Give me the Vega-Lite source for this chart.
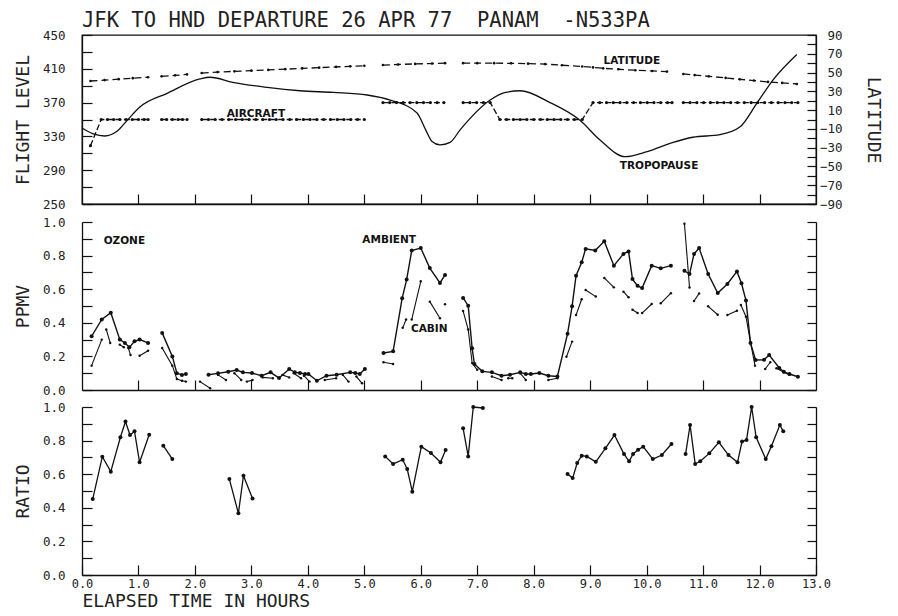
{
  "$schema": "https://vega.github.io/schema/vega-lite/v6.json",
  "padding": {"left": 13, "top": 10, "right": 8, "bottom": 0},
  "background": "white",
  "title": {"text": "JFK TO HND DEPARTURE 26 APR 77\u00a0\u00a0PANAM\u00a0\u00a0-N533PA", "anchor": "start", "frame": "group", "font": "DejaVu Sans Mono", "fontSize": 20.5, "fontWeight": "normal", "color": "#222", "offset": -3},
  "spacing": 4,
  "config": {
    "view": {"stroke": null},
    "axis": {"grid": false, "labelFont": "DejaVu Sans Mono", "labelFontSize": 12.5, "labelColor": "#222", "titleFont": "DejaVu Sans Mono", "titleFontSize": 18, "titleFontWeight": "normal", "titleColor": "#222", "domainColor": "#111", "tickColor": "#111", "domainWidth": 1.3, "tickWidth": 1.2, "labelOverlap": false, "labelFlush": false}
  },
  "datasets": {
    "trop": [
      {"t":0.0,"fl":340},{"t":0.2,"fl":333},{"t":0.4,"fl":330.5},{"t":0.62,"fl":336},{"t":0.8,"fl":349},{"t":1.03,"fl":365},{"t":1.51,"fl":381},{"t":2.09,"fl":398},{"t":2.27,"fl":400},{"t":2.67,"fl":394},{"t":3.28,"fl":388},{"t":3.86,"fl":384},{"t":4.45,"fl":382},{"t":5.05,"fl":379},{"t":5.46,"fl":373},{"t":5.93,"fl":358},{"t":6.1,"fl":336},{"t":6.2,"fl":324},{"t":6.34,"fl":320},{"t":6.52,"fl":323},{"t":6.7,"fl":338},{"t":7.23,"fl":373},{"t":7.5,"fl":382},{"t":7.76,"fl":384},{"t":8.29,"fl":370},{"t":8.82,"fl":349},{"t":9.17,"fl":326},{"t":9.62,"fl":306},{"t":10.01,"fl":312},{"t":10.47,"fl":323},{"t":10.82,"fl":329},{"t":11.3,"fl":332},{"t":11.65,"fl":341},{"t":11.96,"fl":370},{"t":12.24,"fl":397},{"t":12.66,"fl":427}
    ],
    "aircraft": [
      {"t":0.15,"fl":319,"seg":1},{"t":0.34,"fl":350,"seg":1},{"t":0.45,"fl":350,"seg":1},{"t":0.56,"fl":350,"seg":1},{"t":0.67,"fl":350,"seg":1},{"t":0.78,"fl":350,"seg":1},{"t":0.89,"fl":350,"seg":1},{"t":1.0,"fl":350,"seg":1},{"t":1.1,"fl":350,"seg":1},{"t":1.17,"fl":350,"seg":1},
      {"t":1.41,"fl":350,"seg":2},{"t":1.5,"fl":350,"seg":2},{"t":1.6,"fl":350,"seg":2},{"t":1.7,"fl":350,"seg":2},{"t":1.78,"fl":350,"seg":2},{"t":1.86,"fl":350,"seg":2},
      {"t":2.12,"fl":350,"seg":3},{"t":2.24,"fl":350,"seg":3},{"t":2.36,"fl":350,"seg":3},{"t":2.48,"fl":350,"seg":3},{"t":2.6,"fl":350,"seg":3},{"t":2.72,"fl":350,"seg":3},{"t":2.84,"fl":350,"seg":3},{"t":2.96,"fl":350,"seg":3},{"t":3.08,"fl":350,"seg":3},{"t":3.2,"fl":350,"seg":3},{"t":3.32,"fl":350,"seg":3},{"t":3.44,"fl":350,"seg":3},{"t":3.56,"fl":350,"seg":3},{"t":3.68,"fl":350,"seg":3},{"t":3.8,"fl":350,"seg":3},{"t":3.92,"fl":350,"seg":3},{"t":4.04,"fl":350,"seg":3},{"t":4.16,"fl":350,"seg":3},{"t":4.28,"fl":350,"seg":3},{"t":4.4,"fl":350,"seg":3},{"t":4.52,"fl":350,"seg":3},{"t":4.64,"fl":350,"seg":3},{"t":4.76,"fl":350,"seg":3},{"t":4.88,"fl":350,"seg":3},{"t":5.0,"fl":350,"seg":3},
      {"t":5.33,"fl":370,"seg":4},{"t":5.45,"fl":370,"seg":4},{"t":5.57,"fl":370,"seg":4},{"t":5.69,"fl":370,"seg":4},{"t":5.81,"fl":370,"seg":4},{"t":5.93,"fl":370,"seg":4},{"t":6.05,"fl":370,"seg":4},{"t":6.17,"fl":370,"seg":4},{"t":6.29,"fl":370,"seg":4},{"t":6.41,"fl":370,"seg":4},
      {"t":6.75,"fl":370,"seg":5},{"t":6.87,"fl":370,"seg":5},{"t":6.99,"fl":370,"seg":5},{"t":7.11,"fl":370,"seg":5},{"t":7.23,"fl":370,"seg":5},{"t":7.4,"fl":350,"seg":5},{"t":7.52,"fl":350,"seg":5},{"t":7.64,"fl":350,"seg":5},{"t":7.76,"fl":350,"seg":5},{"t":7.88,"fl":350,"seg":5},{"t":8.0,"fl":350,"seg":5},{"t":8.12,"fl":350,"seg":5},{"t":8.24,"fl":350,"seg":5},{"t":8.36,"fl":350,"seg":5},{"t":8.48,"fl":350,"seg":5},{"t":8.6,"fl":350,"seg":5},{"t":8.72,"fl":350,"seg":5},{"t":8.86,"fl":350,"seg":5},{"t":9.05,"fl":370,"seg":5},{"t":9.17,"fl":370,"seg":5},{"t":9.29,"fl":370,"seg":5},{"t":9.41,"fl":370,"seg":5},{"t":9.53,"fl":370,"seg":5},{"t":9.65,"fl":370,"seg":5},{"t":9.77,"fl":370,"seg":5},{"t":9.89,"fl":370,"seg":5},{"t":10.01,"fl":370,"seg":5},{"t":10.13,"fl":370,"seg":5},{"t":10.25,"fl":370,"seg":5},{"t":10.37,"fl":370,"seg":5},{"t":10.45,"fl":370,"seg":5},
      {"t":10.65,"fl":370,"seg":6},{"t":10.77,"fl":370,"seg":6},{"t":10.89,"fl":370,"seg":6},{"t":11.01,"fl":370,"seg":6},{"t":11.13,"fl":370,"seg":6},{"t":11.25,"fl":370,"seg":6},{"t":11.37,"fl":370,"seg":6},{"t":11.49,"fl":370,"seg":6},{"t":11.61,"fl":370,"seg":6},{"t":11.73,"fl":370,"seg":6},{"t":11.85,"fl":370,"seg":6},{"t":11.97,"fl":370,"seg":6},{"t":12.09,"fl":370,"seg":6},{"t":12.21,"fl":370,"seg":6},{"t":12.33,"fl":370,"seg":6},{"t":12.45,"fl":370,"seg":6},{"t":12.57,"fl":370,"seg":6},{"t":12.68,"fl":370,"seg":6}
    ],
    "lat": [
      {"t":0.15,"lat":41,"seg":1},{"t":0.4,"lat":42,"seg":1},{"t":0.65,"lat":43,"seg":1},{"t":0.9,"lat":44,"seg":1},{"t":1.17,"lat":45,"seg":1},
      {"t":1.41,"lat":46,"seg":2},{"t":1.65,"lat":47,"seg":2},{"t":1.86,"lat":48,"seg":2},
      {"t":2.12,"lat":49.5,"seg":3},{"t":2.4,"lat":50.5,"seg":3},{"t":2.7,"lat":51.3,"seg":3},{"t":3.0,"lat":52,"seg":3},{"t":3.3,"lat":52.8,"seg":3},{"t":3.6,"lat":53.6,"seg":3},{"t":3.9,"lat":54.4,"seg":3},{"t":4.2,"lat":55.2,"seg":3},{"t":4.5,"lat":56,"seg":3},{"t":4.75,"lat":56.6,"seg":3},{"t":5.0,"lat":57.2,"seg":3},
      {"t":5.33,"lat":58,"seg":4},{"t":5.6,"lat":58.6,"seg":4},{"t":5.9,"lat":59.2,"seg":4},{"t":6.2,"lat":59.6,"seg":4},{"t":6.43,"lat":60,"seg":4},
      {"t":6.75,"lat":60,"seg":5},{"t":7.0,"lat":60,"seg":5},{"t":7.3,"lat":60,"seg":5},{"t":7.6,"lat":59.8,"seg":5},{"t":7.9,"lat":59.5,"seg":5},{"t":8.2,"lat":59,"seg":5},{"t":8.5,"lat":57.8,"seg":5},{"t":8.86,"lat":56.5,"seg":5},{"t":9.05,"lat":55.5,"seg":5},{"t":9.23,"lat":54.5,"seg":5},{"t":9.5,"lat":53.5,"seg":5},{"t":9.8,"lat":52.5,"seg":5},{"t":10.1,"lat":51.7,"seg":5},{"t":10.36,"lat":51,"seg":5},
      {"t":10.65,"lat":48.5,"seg":6},{"t":10.85,"lat":47.3,"seg":6},{"t":11.1,"lat":46,"seg":6},{"t":11.4,"lat":44.3,"seg":6},{"t":11.65,"lat":42.8,"seg":6},{"t":11.9,"lat":41.5,"seg":6},{"t":12.15,"lat":40,"seg":6},{"t":12.4,"lat":39,"seg":6},{"t":12.66,"lat":37.8,"seg":6}
    ],
    "toplabels": [
      {"t":3.08,"fl":356.5,"label":"AIRCRAFT"},{"t":9.74,"fl":419,"label":"LATITUDE"},{"t":10.22,"fl":295,"label":"TROPOPAUSE"}
    ],
    "amb": [
      {"t":0.17,"v":0.32,"seg":1},{"t":0.35,"v":0.42,"seg":1},{"t":0.51,"v":0.46,"seg":1},{"t":0.67,"v":0.30,"seg":1},{"t":0.76,"v":0.28,"seg":1},{"t":0.84,"v":0.254,"seg":1},{"t":0.93,"v":0.29,"seg":1},{"t":1.02,"v":0.30,"seg":1},{"t":1.17,"v":0.28,"seg":1},
      {"t":1.42,"v":0.34,"seg":2},{"t":1.60,"v":0.20,"seg":2},{"t":1.68,"v":0.10,"seg":2},{"t":1.77,"v":0.09,"seg":2},{"t":1.84,"v":0.095,"seg":2},
      {"t":2.24,"v":0.091,"seg":3},{"t":2.41,"v":0.099,"seg":3},{"t":2.59,"v":0.109,"seg":3},{"t":2.74,"v":0.119,"seg":3},{"t":2.85,"v":0.105,"seg":3},{"t":3.01,"v":0.101,"seg":3},{"t":3.18,"v":0.085,"seg":3},{"t":3.34,"v":0.105,"seg":3},{"t":3.49,"v":0.071,"seg":3},{"t":3.67,"v":0.125,"seg":3},{"t":3.77,"v":0.105,"seg":3},{"t":3.86,"v":0.101,"seg":3},{"t":3.95,"v":0.095,"seg":3},{"t":4.01,"v":0.095,"seg":3},{"t":4.16,"v":0.055,"seg":3},{"t":4.33,"v":0.085,"seg":3},{"t":4.51,"v":0.091,"seg":3},{"t":4.75,"v":0.105,"seg":3},{"t":4.84,"v":0.101,"seg":3},{"t":4.92,"v":0.095,"seg":3},{"t":5.01,"v":0.125,"seg":3},
      {"t":5.34,"v":0.22,"seg":4},{"t":5.51,"v":0.23,"seg":4},{"t":5.67,"v":0.546,"seg":4},{"t":5.75,"v":0.657,"seg":4},{"t":5.84,"v":0.83,"seg":4},{"t":6.0,"v":0.845,"seg":4},{"t":6.16,"v":0.726,"seg":4},{"t":6.34,"v":0.637,"seg":4},{"t":6.43,"v":0.685,"seg":4},
      {"t":6.75,"v":0.548,"seg":5},{"t":6.84,"v":0.502,"seg":5},{"t":6.91,"v":0.248,"seg":5},{"t":6.95,"v":0.155,"seg":5},{"t":7.09,"v":0.111,"seg":5},{"t":7.26,"v":0.105,"seg":5},{"t":7.43,"v":0.085,"seg":5},{"t":7.58,"v":0.091,"seg":5},{"t":7.76,"v":0.105,"seg":5},{"t":7.86,"v":0.095,"seg":5},{"t":7.95,"v":0.095,"seg":5},{"t":8.10,"v":0.101,"seg":5},{"t":8.26,"v":0.085,"seg":5},{"t":8.42,"v":0.081,"seg":5},{"t":8.60,"v":0.335,"seg":5},{"t":8.68,"v":0.498,"seg":5},{"t":8.75,"v":0.68,"seg":5},{"t":8.85,"v":0.76,"seg":5},{"t":8.92,"v":0.84,"seg":5},{"t":9.09,"v":0.83,"seg":5},{"t":9.25,"v":0.885,"seg":5},{"t":9.42,"v":0.74,"seg":5},{"t":9.59,"v":0.81,"seg":5},{"t":9.68,"v":0.825,"seg":5},{"t":9.75,"v":0.66,"seg":5},{"t":9.84,"v":0.62,"seg":5},{"t":9.92,"v":0.607,"seg":5},{"t":10.09,"v":0.74,"seg":5},{"t":10.25,"v":0.724,"seg":5},{"t":10.43,"v":0.74,"seg":5},
      {"t":10.67,"v":0.71,"seg":6},{"t":10.76,"v":0.69,"seg":6},{"t":10.84,"v":0.81,"seg":6},{"t":10.93,"v":0.845,"seg":6},{"t":11.09,"v":0.69,"seg":6},{"t":11.26,"v":0.577,"seg":6},{"t":11.43,"v":0.631,"seg":6},{"t":11.60,"v":0.706,"seg":6},{"t":11.68,"v":0.635,"seg":6},{"t":11.76,"v":0.532,"seg":6},{"t":11.84,"v":0.28,"seg":6},{"t":11.93,"v":0.179,"seg":6},{"t":12.08,"v":0.18,"seg":6},{"t":12.17,"v":0.208,"seg":6},{"t":12.35,"v":0.131,"seg":6},{"t":12.43,"v":0.109,"seg":6},{"t":12.53,"v":0.095,"seg":6},{"t":12.68,"v":0.079,"seg":6}
    ],
    "cab": [
      {"t":0.17,"v":0.145,"seg":1},{"t":0.35,"v":0.30,"seg":1},
      {"t":0.43,"v":0.36,"seg":2},{"t":0.50,"v":0.28,"seg":2},
      {"t":0.67,"v":0.27,"seg":3},{"t":0.74,"v":0.254,"seg":3},
      {"t":0.82,"v":0.25,"seg":4},{"t":0.86,"v":0.208,"seg":4},
      {"t":1.02,"v":0.204,"seg":5},{"t":1.17,"v":0.234,"seg":5},
      {"t":1.42,"v":0.25,"seg":6},{"t":1.60,"v":0.145,"seg":6},{"t":1.68,"v":0.065,"seg":6},{"t":1.77,"v":0.055,"seg":6},{"t":1.84,"v":0.05,"seg":6},
      {"t":2.09,"v":0.05,"seg":7},{"t":2.27,"v":0.01,"seg":7},
      {"t":2.41,"v":0.09,"seg":8},{"t":2.55,"v":0.06,"seg":8},
      {"t":2.70,"v":0.10,"seg":9},{"t":2.82,"v":0.06,"seg":9},
      {"t":2.92,"v":0.05,"seg":10},{"t":3.02,"v":0.06,"seg":10},
      {"t":3.20,"v":0.075,"seg":11},{"t":3.38,"v":0.07,"seg":11},
      {"t":3.55,"v":0.09,"seg":12},{"t":3.67,"v":0.075,"seg":12},
      {"t":3.75,"v":0.10,"seg":13},{"t":3.88,"v":0.07,"seg":13},
      {"t":3.93,"v":0.085,"seg":14},{"t":4.03,"v":0.05,"seg":14},
      {"t":4.30,"v":0.06,"seg":15},{"t":4.50,"v":0.07,"seg":15},
      {"t":4.62,"v":0.09,"seg":16},{"t":4.72,"v":0.05,"seg":16},
      {"t":4.86,"v":0.08,"seg":17},{"t":4.96,"v":0.04,"seg":17},
      {"t":5.34,"v":0.165,"seg":18},{"t":5.51,"v":0.155,"seg":18},
      {"t":5.68,"v":0.37,"seg":19},{"t":5.74,"v":0.42,"seg":19},
      {"t":5.84,"v":0.42,"seg":20},{"t":6.00,"v":0.647,"seg":20},
      {"t":6.16,"v":0.526,"seg":21},{"t":6.34,"v":0.427,"seg":21},
      {"t":6.43,"v":0.51,"seg":22},
      {"t":6.75,"v":0.47,"seg":23},{"t":6.84,"v":0.36,"seg":23},{"t":6.91,"v":0.16,"seg":23},{"t":7.0,"v":0.12,"seg":23},
      {"t":7.26,"v":0.08,"seg":24},{"t":7.43,"v":0.06,"seg":24},
      {"t":7.55,"v":0.07,"seg":25},{"t":7.62,"v":0.07,"seg":25},
      {"t":7.76,"v":0.10,"seg":26},{"t":7.86,"v":0.06,"seg":26},
      {"t":8.26,"v":0.06,"seg":27},{"t":8.42,"v":0.07,"seg":27},
      {"t":8.58,"v":0.198,"seg":28},{"t":8.68,"v":0.288,"seg":28},
      {"t":8.75,"v":0.446,"seg":29},{"t":8.85,"v":0.54,"seg":29},
      {"t":8.92,"v":0.595,"seg":30},{"t":9.10,"v":0.556,"seg":30},
      {"t":9.25,"v":0.667,"seg":31},{"t":9.42,"v":0.611,"seg":31},
      {"t":9.59,"v":0.585,"seg":32},{"t":9.68,"v":0.552,"seg":32},
      {"t":9.75,"v":0.478,"seg":33},{"t":9.84,"v":0.458,"seg":33},
      {"t":9.92,"v":0.458,"seg":34},{"t":10.09,"v":0.512,"seg":34},
      {"t":10.25,"v":0.516,"seg":35},{"t":10.43,"v":0.576,"seg":35},
      {"t":10.67,"v":0.99,"seg":36},{"t":10.76,"v":0.61,"seg":36},
      {"t":10.84,"v":0.53,"seg":37},{"t":10.93,"v":0.575,"seg":37},
      {"t":11.09,"v":0.498,"seg":38},{"t":11.26,"v":0.448,"seg":38},
      {"t":11.43,"v":0.446,"seg":39},{"t":11.60,"v":0.472,"seg":39},
      {"t":11.67,"v":0.506,"seg":40},{"t":11.76,"v":0.436,"seg":40},{"t":11.84,"v":0.284,"seg":40},{"t":11.92,"v":0.145,"seg":40},
      {"t":12.10,"v":0.125,"seg":41},{"t":12.19,"v":0.165,"seg":41},
      {"t":12.30,"v":0.13,"seg":42},{"t":12.43,"v":0.105,"seg":42},{"t":12.53,"v":0.09,"seg":42}
    ],
    "midlabels": [
      {"t":0.75,"v":0.887,"label":"OZONE"},{"t":5.44,"v":0.89,"label":"AMBIENT"},{"t":6.15,"v":0.363,"label":"CABIN"}
    ],
    "ratio": [
      {"t":0.19,"r":0.452,"seg":1},{"t":0.36,"r":0.704,"seg":1},{"t":0.51,"r":0.615,"seg":1},{"t":0.68,"r":0.82,"seg":1},{"t":0.77,"r":0.913,"seg":1},{"t":0.85,"r":0.833,"seg":1},{"t":0.93,"r":0.855,"seg":1},{"t":1.02,"r":0.671,"seg":1},{"t":1.19,"r":0.835,"seg":1},
      {"t":1.44,"r":0.77,"seg":2},{"t":1.60,"r":0.69,"seg":2},
      {"t":2.61,"r":0.571,"seg":3},{"t":2.77,"r":0.367,"seg":3},{"t":2.86,"r":0.591,"seg":3},{"t":3.02,"r":0.456,"seg":3},
      {"t":5.37,"r":0.706,"seg":4},{"t":5.51,"r":0.661,"seg":4},{"t":5.68,"r":0.686,"seg":4},{"t":5.76,"r":0.631,"seg":4},{"t":5.85,"r":0.496,"seg":4},{"t":6.01,"r":0.764,"seg":4},{"t":6.18,"r":0.726,"seg":4},{"t":6.35,"r":0.671,"seg":4},{"t":6.44,"r":0.744,"seg":4},
      {"t":6.75,"r":0.873,"seg":5},{"t":6.84,"r":0.706,"seg":5},{"t":6.93,"r":1.0,"seg":5},{"t":7.10,"r":0.994,"seg":5},
      {"t":8.60,"r":0.601,"seg":6},{"t":8.69,"r":0.577,"seg":6},{"t":8.77,"r":0.667,"seg":6},{"t":8.85,"r":0.71,"seg":6},{"t":8.94,"r":0.706,"seg":6},{"t":9.10,"r":0.674,"seg":6},{"t":9.27,"r":0.754,"seg":6},{"t":9.43,"r":0.833,"seg":6},{"t":9.60,"r":0.72,"seg":6},{"t":9.69,"r":0.677,"seg":6},{"t":9.76,"r":0.72,"seg":6},{"t":9.85,"r":0.746,"seg":6},{"t":9.94,"r":0.764,"seg":6},{"t":10.11,"r":0.69,"seg":6},{"t":10.27,"r":0.714,"seg":6},{"t":10.44,"r":0.78,"seg":6},
      {"t":10.69,"r":0.72,"seg":7},{"t":10.77,"r":0.893,"seg":7},{"t":10.86,"r":0.661,"seg":7},{"t":10.95,"r":0.677,"seg":7},{"t":11.11,"r":0.724,"seg":7},{"t":11.28,"r":0.79,"seg":7},{"t":11.45,"r":0.714,"seg":7},{"t":11.61,"r":0.671,"seg":7},{"t":11.69,"r":0.794,"seg":7},{"t":11.77,"r":0.804,"seg":7},{"t":11.86,"r":1.0,"seg":7},{"t":11.94,"r":0.82,"seg":7},{"t":12.11,"r":0.69,"seg":7},{"t":12.21,"r":0.766,"seg":7},{"t":12.36,"r":0.893,"seg":7},{"t":12.42,"r":0.855,"seg":7}
    ]
  },
  "vconcat": [
    {
      "width": 734, "height": 169,
      "view": {"stroke": "#111", "strokeWidth": 1.3},
      "encoding": {
        "x": {"field": "t", "type": "quantitative", "scale": {"domain": [0, 13], "nice": false, "zero": false},
              "axis": {"values": [1,2,3,4,5,6,7,8,9,10,11,12], "labels": false, "tickSize": -10, "title": null}}
      },
      "layer": [
        {
          "encoding": {"y": {"field": "fl", "type": "quantitative", "scale": {"domain": [250, 450], "nice": false, "zero": false},
            "axis": {"orient": "left", "values": [250,270,290,310,330,350,370,390,410,430,450], "labelExpr": "(datum.value-250)%40==0 ? datum.label : ''", "tickSize": -10, "labelPadding": 27, "title": "FLIGHT LEVEL", "titlePadding": 10}}},
          "layer": [
            {"data": {"name": "trop"}, "mark": {"type": "line", "interpolate": "monotone", "color": "#111", "strokeWidth": 1.3}},
            {"data": {"name": "aircraft"}, "mark": {"type": "line", "color": "#111", "strokeWidth": 1.3, "strokeDash": [6, 2.5]}, "encoding": {"detail": {"field": "seg", "type": "nominal"}}},
            {"data": {"name": "aircraft"}, "mark": {"type": "point", "filled": true, "color": "#111", "size": 10, "opacity": 1}},
            {"data": {"name": "toplabels"}, "mark": {"type": "text", "font": "DejaVu Sans", "fontWeight": "bold", "fontSize": 10.5, "color": "#111"}, "encoding": {"text": {"field": "label"}}}
          ]
        },
        {
          "encoding": {"y": {"field": "lat", "type": "quantitative", "scale": {"domain": [-90, 90], "nice": false, "zero": false},
            "axis": {"orient": "right", "values": [-90,-80,-70,-60,-50,-40,-30,-20,-10,0,10,20,30,40,50,60,70,80,90], "labelExpr": "(datum.value+90)%20==0 ? datum.label : ''", "tickSize": -9, "labelPadding": 35, "labelAlign": "right", "title": "LATITUDE", "titlePadding": 21}}},
          "layer": [
            {"data": {"name": "lat"}, "mark": {"type": "line", "color": "#111", "strokeWidth": 1.3, "strokeDash": [7, 4]}, "encoding": {"detail": {"field": "seg", "type": "nominal"}}},
            {"data": {"name": "lat"}, "mark": {"type": "point", "filled": true, "color": "#111", "size": 7, "opacity": 1}}
          ]
        }
      ],
      "resolve": {"scale": {"y": "independent"}}
    },
    {
      "width": 734, "height": 168,
      "encoding": {
        "x": {"field": "t", "type": "quantitative", "scale": {"domain": [0, 13], "nice": false, "zero": false},
              "axis": {"values": [1,2,3,4,5,6,7,8,9,10,11,12], "labels": false, "tickSize": -10, "title": null}}
      },
      "layer": [
        {
          "encoding": {"y": {"field": "v", "type": "quantitative", "scale": {"domain": [0, 1], "nice": false},
            "axis": {"orient": "left", "values": [0,0.1,0.2,0.3,0.4,0.5,0.6,0.7,0.8,0.9,1.0], "labelExpr": "round(datum.value*10)%2==0 ? format(datum.value,'.1f') : ''", "tickSize": -10, "labelPadding": 27, "title": "PPMV", "titlePadding": 10}}},
          "layer": [
            {"data": {"name": "amb"}, "mark": {"type": "line", "color": "#111", "strokeWidth": 1.4}, "encoding": {"detail": {"field": "seg", "type": "nominal"}}},
            {"data": {"name": "amb"}, "mark": {"type": "point", "filled": true, "color": "#111", "size": 16, "opacity": 1}},
            {"data": {"name": "cab"}, "mark": {"type": "line", "color": "#111", "strokeWidth": 1.1}, "encoding": {"detail": {"field": "seg", "type": "nominal"}}},
            {"data": {"name": "cab"}, "mark": {"type": "point", "filled": true, "color": "#111", "size": 6, "opacity": 1}},
            {"data": {"name": "midlabels"}, "mark": {"type": "text", "font": "DejaVu Sans", "fontWeight": "bold", "fontSize": 10.5, "color": "#111"}, "encoding": {"text": {"field": "label"}}}
          ]
        },
        {
          "data": {"name": "amb"},
          "mark": {"type": "point", "opacity": 0},
          "encoding": {"y": {"field": "v", "type": "quantitative", "scale": {"domain": [0, 1], "nice": false},
            "axis": {"orient": "right", "values": [0,0.1,0.2,0.3,0.4,0.5,0.6,0.7,0.8,0.9,1.0], "labels": false, "tickSize": -9, "title": null}}}
        }
      ],
      "resolve": {"scale": {"y": "independent"}}
    },
    {
      "width": 734, "height": 168,
      "encoding": {
        "x": {"field": "t", "type": "quantitative", "scale": {"domain": [0, 13], "nice": false, "zero": false},
              "axis": {"values": [0,1,2,3,4,5,6,7,8,9,10,11,12,13], "format": ".1f", "tickSize": -10, "labelPadding": 13, "labelFontSize": 12, "title": "ELAPSED TIME IN HOURS", "titleAnchor": "start", "titleAlign": "left", "titlePadding": 3}}
      },
      "layer": [
        {
          "encoding": {"y": {"field": "r", "type": "quantitative", "scale": {"domain": [0, 1], "nice": false},
            "axis": {"orient": "left", "values": [0,0.1,0.2,0.3,0.4,0.5,0.6,0.7,0.8,0.9,1.0], "labelExpr": "round(datum.value*10)%2==0 ? format(datum.value,'.1f') : ''", "tickSize": -10, "labelPadding": 27, "title": "RATIO", "titlePadding": 10}}},
          "layer": [
            {"data": {"name": "ratio"}, "mark": {"type": "line", "color": "#111", "strokeWidth": 1.3}, "encoding": {"detail": {"field": "seg", "type": "nominal"}}},
            {"data": {"name": "ratio"}, "mark": {"type": "point", "filled": true, "color": "#111", "size": 16, "opacity": 1}}
          ]
        },
        {
          "data": {"name": "ratio"},
          "mark": {"type": "point", "opacity": 0},
          "encoding": {"y": {"field": "r", "type": "quantitative", "scale": {"domain": [0, 1], "nice": false},
            "axis": {"orient": "right", "values": [0,0.1,0.2,0.3,0.4,0.5,0.6,0.7,0.8,0.9,1.0], "labels": false, "tickSize": -9, "title": null}}}
        }
      ],
      "resolve": {"scale": {"y": "independent"}}
    }
  ]
}
